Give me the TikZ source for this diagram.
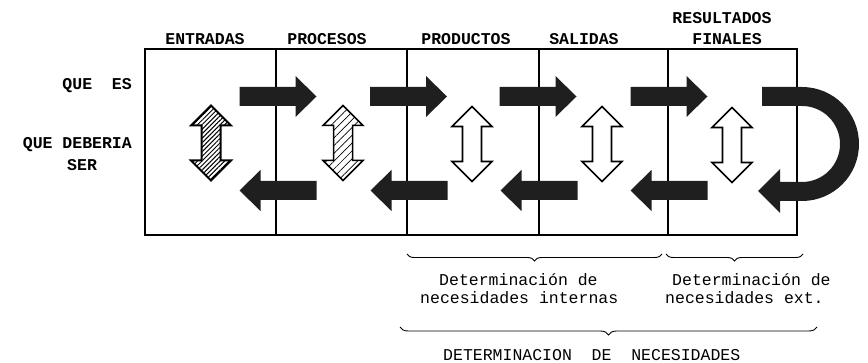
\documentclass[tikz,border=0pt]{standalone}
\usepackage{fontspec}
\setmainfont{Liberation Mono}
\usetikzlibrary{decorations.pathreplacing,patterns,patterns.meta}
\tikzset{
  hdr/.style={font=\fontsize{16.5}{19}\selectfont\bfseries, inner sep=0pt},
  lbl/.style={font=\fontsize{16.5}{19}\selectfont, inner sep=0pt},
  frame/.style={line width=1.5pt},
  brc/.style={decorate, decoration={brace,mirror,amplitude=7pt}, line width=0.9pt},
  dark/.style={fill=black!88},
  hatchA/.style={preaction={fill=white}, pattern={Lines[angle=45,distance=3.2pt,line width=1pt]}, draw, line width=2pt},
  hatchB/.style={preaction={fill=white}, pattern={Lines[angle=45,distance=5.5pt,line width=0.7pt]}, draw, line width=1.5pt},
  hollow/.style={fill=white, draw, line width=1.6pt, line join=miter},
  rarrow/.pic={\path[pic actions] (-38.5,-9.5) -- (17.5,-9.5) -- (17.5,-20.5) -- (38.5,0) -- (17.5,20.5) -- (17.5,9.5) -- (-38.5,9.5) -- cycle;},
  larrow/.pic={\path[pic actions] (38.5,-9.5) -- (-17.5,-9.5) -- (-17.5,-20.5) -- (-38.5,0) -- (-17.5,20.5) -- (-17.5,9.5) -- (38.5,9.5) -- cycle;},
  vdarrow/.pic={\path[pic actions] (0,-37.5) -- (20,-17.5) -- (9.5,-17.5) -- (9.5,17.5) -- (20,17.5) -- (0,37.5) -- (-20,17.5) -- (-9.5,17.5) -- (-9.5,-17.5) -- (-20,-17.5) -- cycle;}
}
\begin{document}
\begin{tikzpicture}[x=1pt,y=-1pt]
\useasboundingbox (0,0) rectangle (868,363);
% frame and columns
\draw[frame] (145,49) rectangle (797,235);
\coordinate (d1t) at (276,49); \coordinate (d1b) at (276,235);
\coordinate (d2t) at (407,49); \coordinate (d2b) at (407,235);
\coordinate (d3t) at (539,49); \coordinate (d3b) at (539,235);
\coordinate (d4t) at (668,49); \coordinate (d4b) at (668,235);
\draw[frame] (d1t) -- (d1b);
\draw[frame] (d2t) -- (d2b);
\draw[frame] (d3t) -- (d3b);
\draw[frame] (d4t) -- (d4b);
% headers
\node[hdr, anchor=base] (h1) at (205,45) {ENTRADAS};
\node[hdr, anchor=base] (h2) at (327,45) {PROCESOS};
\node[hdr, anchor=base] (h3) at (466,45) {PRODUCTOS};
\node[hdr, anchor=base] (h4) at (584,45) {SALIDAS};
\node[hdr, anchor=base] (h5a) at (722,24) {RESULTADOS};
\node[hdr, anchor=base] (h5b) at (727,45) {FINALES};
% row labels
\node[hdr, anchor=base east] (r1) at (132,90) {QUE~~ES};
\node[hdr, anchor=base east] (r2) at (132,149) {QUE DEBERIA};
\node[hdr, anchor=base west] (r3) at (67,171) {SER};
% top arrows (right)
\pic[dark] (ra1) at (278,96.5) {rarrow};
\pic[dark] (ra2) at (408.5,96.5) {rarrow};
\pic[dark] (ra3) at (538,96.5) {rarrow};
\pic[dark] (ra4) at (669,96.5) {rarrow};
% bottom arrows (left)
\pic[dark] (la1) at (278,190.5) {larrow};
\pic[dark] (la2) at (409,190.5) {larrow};
\pic[dark] (la3) at (539,190.5) {larrow};
\pic[dark] (la4) at (669,190.5) {larrow};
% loop arrow
\path[dark] (762,87) -- (802,87)
  .. controls (833.5,87) and (859,112.5) .. (859,144)
  .. controls (859,175.5) and (833.5,201) .. (802,201)
  -- (780,201) -- (780,213) -- (758,191) -- (780,169) -- (780,182)
  -- (802,182)
  .. controls (823,182) and (840,165) .. (840,144)
  .. controls (840,123) and (823,106) .. (802,106)
  -- (762,106) -- cycle;
% vertical double arrows
\pic[hatchA] (v1) at (211,143) {vdarrow};
\pic[hatchB] (v2) at (343,143) {vdarrow};
\pic[hollow] (v3) at (472,144) {vdarrow};
\pic[hollow] (v4) at (602,144) {vdarrow};
\pic[hollow] (v5) at (732,145) {vdarrow};
% braces
\coordinate (b1a) at (407,254); \coordinate (b1b) at (662,254);
\coordinate (b2a) at (666,254); \coordinate (b2b) at (803,254);
\coordinate (b3a) at (400,327); \coordinate (b3b) at (817,327);
\draw[brc] (b1a) -- (b1b);
\draw[brc] (b2a) -- (b2b);
\draw[brc, decoration={amplitude=8pt}] (b3a) -- (b3b);
% lower texts
\node[lbl, anchor=base west] (t1a) at (439,286) {Determinación de};
\node[lbl, anchor=base west] (t1b) at (420,304) {necesidades internas};
\node[lbl, anchor=base west] (t2a) at (672,286) {Determinación de};
\node[lbl, anchor=base west] (t2b) at (665,304) {necesidades ext.};
\node[lbl, anchor=base west] (t3) at (443,361) {DETERMINACION~~DE~~NECESIDADES};
\end{tikzpicture}
\end{document}
